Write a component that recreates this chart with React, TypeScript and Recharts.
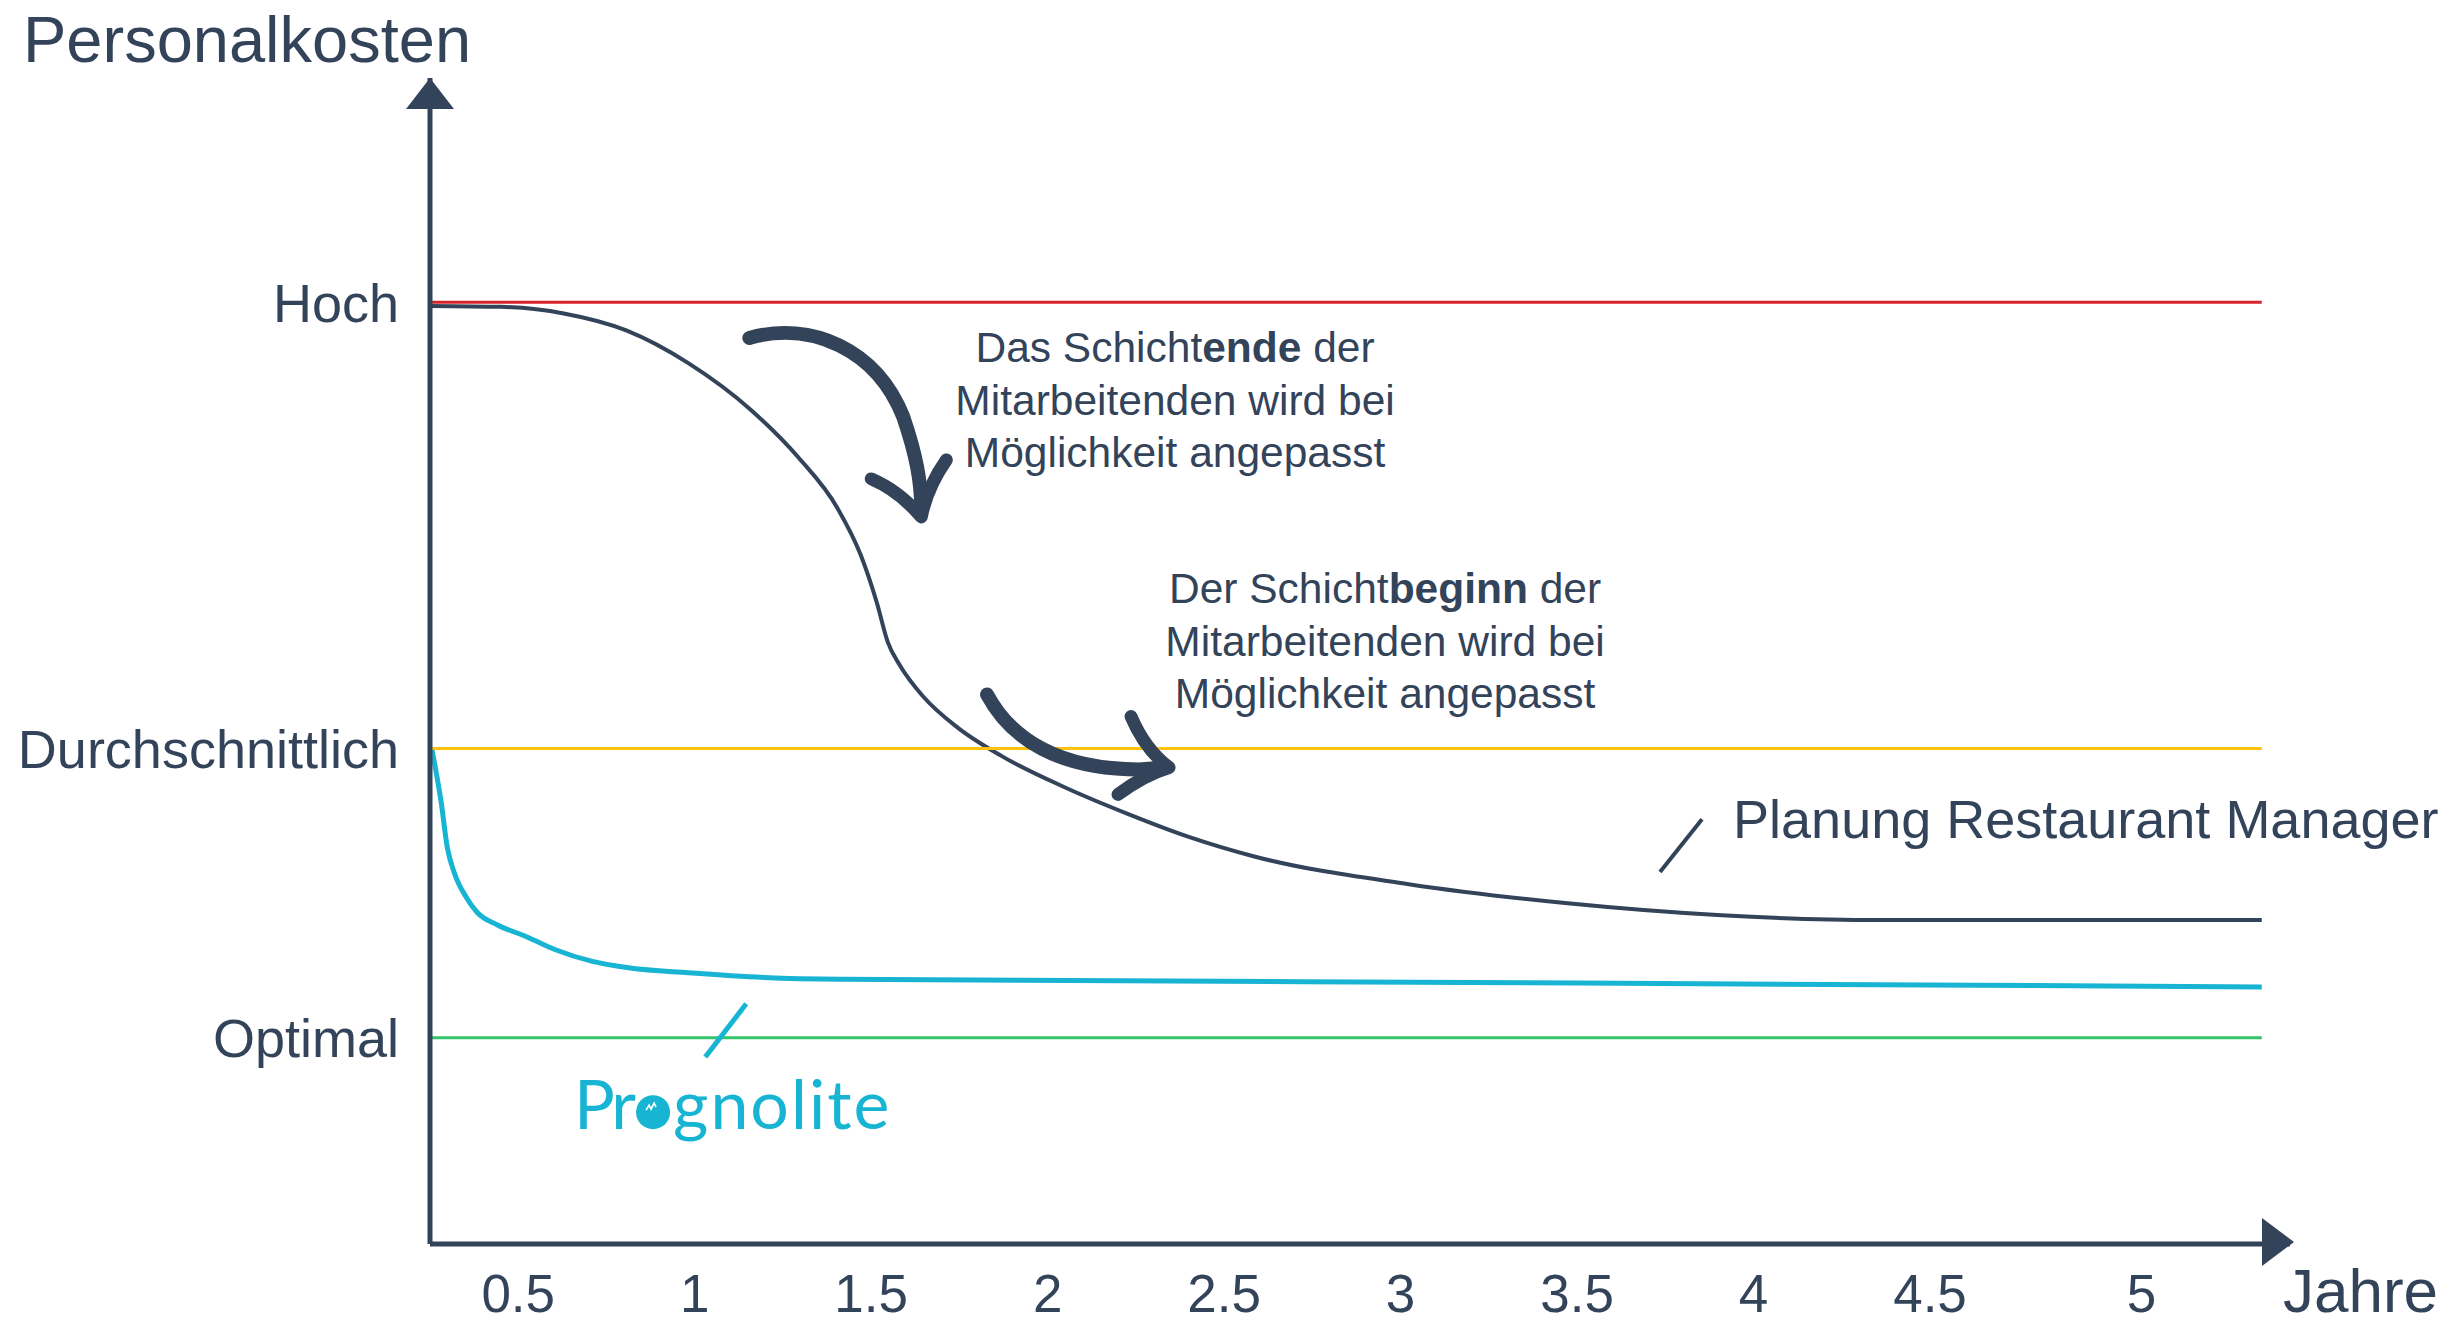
import { LineChart, Line, XAxis, YAxis, ReferenceLine, ReferenceDot } from 'recharts';

const NAVY = '#33435a';
const CYAN = '#17b4d3';
const FONT = '"Liberation Sans", Arial, sans-serif';

// x axis: years, y axis: staff cost index (Hoch = 100)
const yearTicks = [0.5, 1, 1.5, 2, 2.5, 3, 3.5, 4, 4.5, 5];
const levelValues = [100, 52.6, 21.9];
const levelNames = ['Hoch', 'Durchschnittlich', 'Optimal'];
const levelColors = ['#d9232a', '#ffc20f', '#33c46c'];

const managerYears = [0.25, 0.451, 0.629, 0.806, 0.983, 1.161, 1.294, 1.405, 1.471, 1.516, 1.547, 1.582, 1.648, 1.746, 1.87, 2.048, 2.225, 2.402, 2.58, 3.023, 3.466, 3.91, 4.353, 5.44];
const managerCost = [99.6, 99.5, 98.8, 97.0, 93.5, 88.5, 83.5, 78.1, 73.1, 68.1, 63.9, 61.4, 58.1, 54.8, 51.8, 48.5, 45.7, 43.2, 41.2, 38.2, 36.2, 34.9, 34.4, 34.4];

const prognoliteYears = [0.255, 0.282, 0.299, 0.319, 0.353, 0.384, 0.44, 0.525, 0.602, 0.71, 0.817, 0.982, 1.197, 1.415, 1.922, 3.508, 5.44];
const prognoliteCost = [52.6, 46.8, 42.1, 39.4, 36.8, 35.2, 33.9, 32.6, 31.3, 30.0, 29.3, 28.8, 28.3, 28.1, 28.0, 27.7, 27.3];

const X_MIN = 0.25;
const X_END = 5.44;
const X_MAX = 5.52;
const Y_MAX = 123.8;

const managerData = managerYears.map((x, i) => ({ x, cost: managerCost[i] }));
const prognoliteData = prognoliteYears.map((x, i) => ({ x, cost: prognoliteCost[i] }));

function YearTick({ x, y, payload }: any) {
  // the "5" label sits a bit right of its grid position
  const shift = payload.value === 5 ? 35 : 0;
  return (
    <text x={x + shift} y={y + 68} textAnchor="middle" fontSize={53} fontFamily={FONT} fill={NAVY}>
      {String(payload.value)}
    </text>
  );
}

function LevelTick({ x, y, payload }: any) {
  const idx = levelValues.indexOf(payload.value);
  return (
    <text x={x - 31} y={y} dy="0.36em" textAnchor="end" fontSize={54} fontFamily={FONT} fill={NAVY}>
      {levelNames[idx]}
    </text>
  );
}

const YHead = ({ cx, cy }: any) => (
  <g>
    <polygon points={`${cx},${cy} ${cx - 24},${cy + 31} ${cx + 24},${cy + 31}`} fill={NAVY} />
    <text x={cx - 407} y={cy - 16} fontSize={65} fontFamily={FONT} fill={NAVY}>Personalkosten</text>
  </g>
);

const XHead = ({ cx, cy }: any) => (
  <g>
    <polygon points={`${cx + 4},${cy - 2} ${cx - 28},${cy - 26} ${cx - 28},${cy + 22}`} fill={NAVY} />
    <text x={cx - 7} y={cy + 68} fontSize={62} fontFamily={FONT} fill={NAVY}>Jahre</text>
  </g>
);

const ArrowDown = ({ cx, cy }: any) => (
  <g transform={`translate(${cx},${cy})`} fill="none" stroke={NAVY} strokeLinecap="round" strokeLinejoin="round">
    <path d="M -172 -179 C -110 -196, -45 -168, -18 -100 C -5 -62, 0 -35, 0 -6" strokeWidth={14} />
    <path d="M -50 -38 Q -22 -26 0 0 Q 6 -30 25 -57" strokeWidth={13} />
  </g>
);

const ArrowRight = ({ cx, cy }: any) => (
  <g transform={`translate(${cx},${cy})`} fill="none" stroke={NAVY} strokeLinecap="round" strokeLinejoin="round">
    <path d="M -182 -73 C -158 -28, -110 2, -30 2 L -4 0" strokeWidth={14} />
    <path d="M -38 -51 Q -24 -18 0 0 Q -26 8 -51 27" strokeWidth={13} />
  </g>
);

const Note = ({ cx, cy, lines }: any) => (
  <text x={cx} y={cy} textAnchor="middle" fontSize={42.5} fontFamily={FONT} fill={NAVY}>
    {lines.map((parts: [string, boolean][], i: number) => (
      <tspan key={i} x={cx} dy={i === 0 ? 0 : 52.5}>
        {parts.map(([t, bold], j) => (
          <tspan key={j} fontWeight={bold ? 'bold' : 'normal'}>{t}</tspan>
        ))}
      </tspan>
    ))}
  </text>
);

const noteEnd: [string, boolean][][] = [
  [['Das Schicht', false], ['ende', true], [' der', false]],
  [['Mitarbeitenden wird bei', false]],
  [['Möglichkeit angepasst', false]],
];
const noteBegin: [string, boolean][][] = [
  [['Der Schicht', false], ['beginn', true], [' der', false]],
  [['Mitarbeitenden wird bei', false]],
  [['Möglichkeit angepasst', false]],
];

const ManagerName = ({ cx, cy }: any) => (
  <text x={cx} y={cy} fontSize={54} fontFamily={FONT} fill={NAVY}>Planung Restaurant Manager</text>
);

const PrognoliteLogo = ({ cx, cy }: any) => (
  <g fill={CYAN} fontFamily="Lato, sans-serif" fontSize={68}>
    <text x={cx - 20} y={cy + 17} textAnchor="end" letterSpacing={-3}>Pr</text>
    <circle cx={cx} cy={cy} r={17} />
    <path d={`M ${cx - 7} ${cy - 2} l 3 -5 l 2 4 l 3 -6 l 2 4`} stroke="#fff" strokeWidth={1.6} fill="none" />
    <text x={cx + 20} y={cy + 17} textAnchor="start" letterSpacing={2}>gnolite</text>
  </g>
);

export default function App() {
  return (
    <div style={{ position: 'absolute', left: 0, top: 0, background: '#fff' }}>
      <LineChart width={2454} height={1325} margin={{ top: 78, right: 164, bottom: 21, left: 30 }}>
        <XAxis
          type="number"
          dataKey="x"
          domain={[X_MIN, X_MAX]}
          ticks={yearTicks}
          interval={0}
          height={60}
          tickSize={0}
          tickMargin={0}
          tickLine={false}
          axisLine={{ stroke: NAVY, strokeWidth: 5 }}
          tick={<YearTick />}
        />
        <YAxis
          type="number"
          domain={[0, Y_MAX]}
          ticks={levelValues}
          interval={0}
          width={400}
          tickSize={0}
          tickMargin={0}
          tickLine={false}
          axisLine={{ stroke: NAVY, strokeWidth: 5 }}
          tick={<LevelTick />}
        />

        <Line data={managerData} dataKey="cost" type="monotone" stroke={NAVY} strokeWidth={4} dot={false} isAnimationActive={false} />
        <Line data={prognoliteData} dataKey="cost" type="monotone" stroke={CYAN} strokeWidth={5} dot={false} isAnimationActive={false} />

        {levelValues.map((v, i) => (
          <ReferenceLine
            key={levelNames[i]}
            segment={[{ x: X_MIN, y: v }, { x: X_END, y: v }]}
            stroke={levelColors[i]}
            strokeWidth={3}
            ifOverflow="visible"
          />
        ))}

        {/* leader strokes for the series names */}
        <ReferenceLine segment={[{ x: 3.735, y: 39.5 }, { x: 3.854, y: 45.1 }]} stroke={NAVY} strokeWidth={4} ifOverflow="visible" />
        <ReferenceLine segment={[{ x: 1.03, y: 19.85 }, { x: 1.146, y: 25.5 }]} stroke={CYAN} strokeWidth={5} ifOverflow="visible" />

        <ReferenceDot x={X_MIN} y={Y_MAX} ifOverflow="visible" shape={<YHead />} />
        <ReferenceDot x={X_MAX} y={0} ifOverflow="visible" shape={<XHead />} />
        <ReferenceDot x={1.642} y={77.2} ifOverflow="visible" shape={<ArrowDown />} />
        <ReferenceDot x={2.344} y={50.6} ifOverflow="visible" shape={<ArrowRight />} />
        <ReferenceDot x={2.361} y={93.6} ifOverflow="visible" shape={<Note lines={noteEnd} />} />
        <ReferenceDot x={2.956} y={68.05} ifOverflow="visible" shape={<Note lines={noteBegin} />} />
        <ReferenceDot x={3.942} y={43.1} ifOverflow="visible" shape={<ManagerName />} />
        <ReferenceDot x={0.882} y={14.0} ifOverflow="visible" shape={<PrognoliteLogo />} />
      </LineChart>
    </div>
  );
}
